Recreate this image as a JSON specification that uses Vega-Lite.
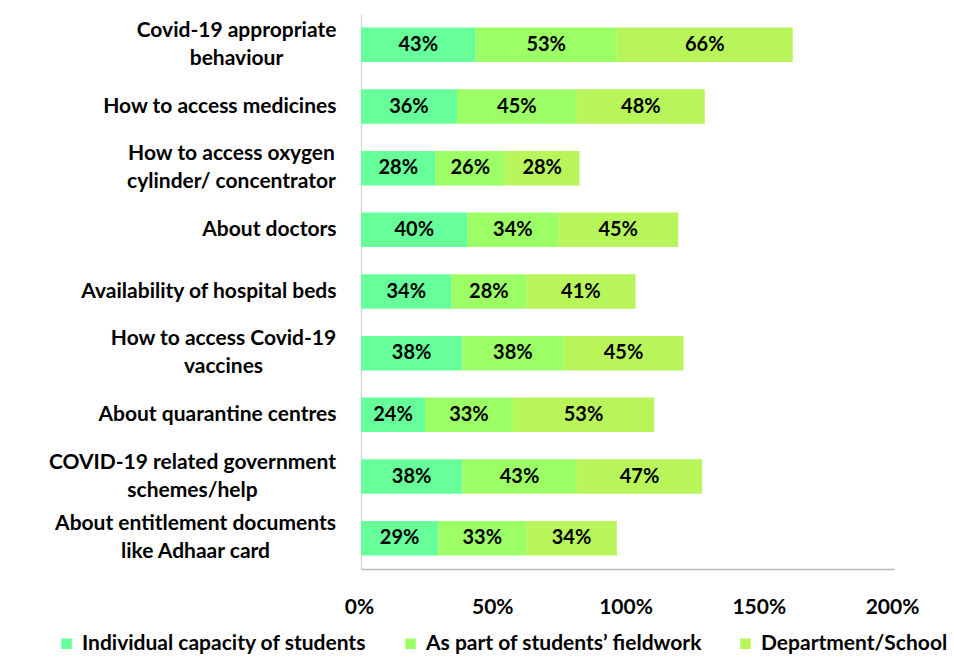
{
  "$schema": "https://vega.github.io/schema/vega-lite/v6.json",
  "autosize": "none",
  "width": 533,
  "height": 555,
  "padding": {"left": 361, "top": 14, "right": 60, "bottom": 99},
  "background": "white",
  "config": {"view": {"stroke": null}, "font": "Lato"},
  "data": {"values": [
    {"topic": "Covid-19 appropriate behaviour", "series": "Individual capacity of students", "value": 43},
    {"topic": "Covid-19 appropriate behaviour", "series": "As part of students’ fieldwork", "value": 53},
    {"topic": "Covid-19 appropriate behaviour", "series": "Department/School", "value": 66},
    {"topic": "How to access medicines", "series": "Individual capacity of students", "value": 36},
    {"topic": "How to access medicines", "series": "As part of students’ fieldwork", "value": 45},
    {"topic": "How to access medicines", "series": "Department/School", "value": 48},
    {"topic": "How to access oxygen cylinder/ concentrator", "series": "Individual capacity of students", "value": 28},
    {"topic": "How to access oxygen cylinder/ concentrator", "series": "As part of students’ fieldwork", "value": 26},
    {"topic": "How to access oxygen cylinder/ concentrator", "series": "Department/School", "value": 28},
    {"topic": "About doctors", "series": "Individual capacity of students", "value": 40},
    {"topic": "About doctors", "series": "As part of students’ fieldwork", "value": 34},
    {"topic": "About doctors", "series": "Department/School", "value": 45},
    {"topic": "Availability of hospital beds", "series": "Individual capacity of students", "value": 34},
    {"topic": "Availability of hospital beds", "series": "As part of students’ fieldwork", "value": 28},
    {"topic": "Availability of hospital beds", "series": "Department/School", "value": 41},
    {"topic": "How to access Covid-19 vaccines", "series": "Individual capacity of students", "value": 38},
    {"topic": "How to access Covid-19 vaccines", "series": "As part of students’ fieldwork", "value": 38},
    {"topic": "How to access Covid-19 vaccines", "series": "Department/School", "value": 45},
    {"topic": "About quarantine centres", "series": "Individual capacity of students", "value": 24},
    {"topic": "About quarantine centres", "series": "As part of students’ fieldwork", "value": 33},
    {"topic": "About quarantine centres", "series": "Department/School", "value": 53},
    {"topic": "COVID-19 related government schemes/help", "series": "Individual capacity of students", "value": 38},
    {"topic": "COVID-19 related government schemes/help", "series": "As part of students’ fieldwork", "value": 43},
    {"topic": "COVID-19 related government schemes/help", "series": "Department/School", "value": 47},
    {"topic": "About entitlement documents like Adhaar card", "series": "Individual capacity of students", "value": 29},
    {"topic": "About entitlement documents like Adhaar card", "series": "As part of students’ fieldwork", "value": 33},
    {"topic": "About entitlement documents like Adhaar card", "series": "Department/School", "value": 34}
  ]},
  "transform": [
    {"calculate": "datum.series == 'Individual capacity of students' ? 0 : datum.series == 'Department/School' ? 2 : 1", "as": "ord"},
    {"stack": "value", "groupby": ["topic"], "sort": [{"field": "ord", "order": "ascending"}], "as": ["v0", "v1"]},
    {"calculate": "(datum.v0 + datum.v1) / 2", "as": "mid"},
    {"calculate": "datum.value + '%'", "as": "lbl"}
  ],
  "encoding": {
    "y": {
      "field": "topic",
      "type": "nominal",
      "sort": null,
      "scale": {"paddingInner": 0.44, "paddingOuter": 0.22},
      "axis": {
        "title": null,
        "ticks": false,
        "domainColor": "#d9d9d9",
        "domainWidth": 1.5,
        "labelFont": "Lato",
        "labelFontSize": 21,
        "labelFontWeight": "bold",
        "labelColor": "black",
        "labelLineHeight": 28,
        "labelLimit": 400,
        "labelExpr": "datum.label == 'Covid-19 appropriate behaviour' ? ['Covid-19 appropriate', 'behaviour'] : datum.label == 'How to access oxygen cylinder/ concentrator' ? ['How to access oxygen', 'cylinder/ concentrator'] : datum.label == 'How to access Covid-19 vaccines' ? ['How to access Covid-19', 'vaccines'] : datum.label == 'COVID-19 related government schemes/help' ? ['COVID-19 related government', 'schemes/help'] : datum.label == 'About entitlement documents like Adhaar card' ? ['About entitlement documents', 'like Adhaar card'] : datum.label",
        "labelAlign": {"condition": {"test": "datum.value == 'Covid-19 appropriate behaviour' || datum.value == 'How to access oxygen cylinder/ concentrator' || datum.value == 'How to access Covid-19 vaccines' || datum.value == 'COVID-19 related government schemes/help' || datum.value == 'About entitlement documents like Adhaar card'", "value": "center"}, "value": "right"},
        "labelOffset": {"condition": {"test": "datum.value == 'Covid-19 appropriate behaviour' || datum.value == 'How to access oxygen cylinder/ concentrator' || datum.value == 'How to access Covid-19 vaccines' || datum.value == 'COVID-19 related government schemes/help' || datum.value == 'About entitlement documents like Adhaar card'", "value": -14}, "value": 0},
        "labelPadding": {"condition": [
          {"test": "datum.value == 'Covid-19 appropriate behaviour'", "value": 125},
          {"test": "datum.value == 'How to access oxygen cylinder/ concentrator'", "value": 130},
          {"test": "datum.value == 'How to access Covid-19 vaccines'", "value": 138},
          {"test": "datum.value == 'COVID-19 related government schemes/help'", "value": 169},
          {"test": "datum.value == 'About entitlement documents like Adhaar card'", "value": 166}
        ], "value": 25}
      }
    }
  },
  "layer": [
    {
      "mark": {"type": "bar"},
      "encoding": {
        "x": {
          "field": "v0",
          "type": "quantitative",
          "scale": {"domain": [0, 200], "nice": false},
          "axis": {
            "title": null,
            "values": [0, 50, 100, 150, 200],
            "labelExpr": "datum.value + '%'",
            "labelFlush": false,
            "labelOverlap": false,
            "ticks": false,
            "grid": false,
            "domainColor": "#b4bcbc",
            "domainWidth": 1.5,
            "labelPadding": 27,
            "labelOffset": -2,
            "labelFont": "Lato",
            "labelFontSize": 21,
            "labelFontWeight": "bold",
            "labelColor": "black"
          }
        },
        "x2": {"field": "v1"},
        "color": {
          "field": "series",
          "type": "nominal",
          "sort": ["Individual capacity of students", "As part of students’ fieldwork", "Department/School"],
          "scale": {"domain": ["Individual capacity of students", "As part of students’ fieldwork", "Department/School"], "range": ["#66ff99", "#9cff66", "#b8f55a"]},
          "legend": {
            "title": null,
            "orient": "none",
            "direction": "horizontal",
            "legendX": -305,
            "legendY": 619,
            "padding": 0,
            "symbolType": "square",
            "symbolSize": 110,
            "symbolStrokeWidth": 0,
            "symbolOpacity": 1,
            "labelFont": "Lato",
            "labelFontSize": 21,
            "labelFontWeight": "bold",
            "labelColor": "black",
            "labelLimit": 400,
            "labelOffset": 5,
            "columnPadding": 33
          }
        }
      }
    },
    {
      "mark": {"type": "text", "font": "Lato", "fontSize": 20, "fontWeight": "bold", "color": "black"},
      "encoding": {
        "x": {"field": "mid", "type": "quantitative"},
        "text": {"field": "lbl", "type": "nominal"},
        "detail": {"field": "series"}
      }
    }
  ]
}
